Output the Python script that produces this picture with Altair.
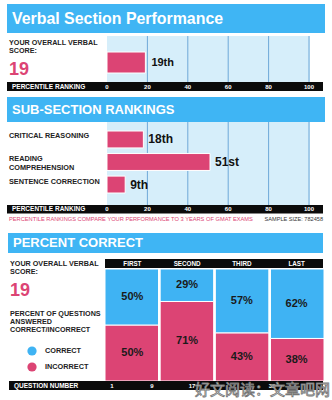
import altair as alt
import pandas as pd

# ---------------- data ----------------
overall_score = [19]
overall_percentile = [19]
overall_rank_label = ["19th"]
percentile_ticks = [0, 20, 40, 60, 80, 100]
grid_ticks = [20, 40, 60, 80, 100]

subsections = ["CRITICAL REASONING", "READING COMPREHENSION", "SENTENCE CORRECTION"]
subsection_labels = ["CRITICAL REASONING", "READING\nCOMPREHENSION", "SENTENCE CORRECTION"]
subsection_percentiles = [18, 51, 9]
subsection_rank_labels = ["18th", "51st", "9th"]

quarters = ["FIRST", "SECOND", "THIRD", "LAST"]
pct_correct = [50, 29, 57, 62]
pct_incorrect = [50, 71, 43, 38]
question_ticks = [1, 9, 17, 33]
legend_kinds = ["CORRECT", "INCORRECT"]

# ---------------- style ----------------
FONT = "Liberation Sans"
HEADER = "#3fb5f4"
PANEL = "#d6eefa"
GRID = "#6fa8d8"
PINK = "#dc4474"
BLUE = "#3fb3f3"
BLACK = "#0b0b0b"
DARK = "#222222"


def one():
    return pd.DataFrame({"k": [0]})


def box(x1, x2, y1, y2, color):
    return alt.Chart(one()).mark_rect(color=color).encode(
        x=alt.value(x1), x2=alt.value(x2), y=alt.value(y1), y2=alt.value(y2))


def label(text, x, y, size, color=DARK, bold=True, align="left", font=FONT, **kw):
    return alt.Chart(pd.DataFrame({"t": [text]})).mark_text(
        align=align, baseline="middle", fontSize=size,
        fontWeight="bold" if bold else "normal", color=color, font=font, **kw
    ).encode(x=alt.value(x), y=alt.value(y), text="t:N")


ticks_df = pd.DataFrame({"tick": percentile_ticks})
grid_df = pd.DataFrame({"tick": grid_ticks})

# ---------------- section 1 ----------------
p1 = alt.Scale(domain=[0, 100], range=[107, 309])
df1 = pd.DataFrame({"base": [0], "pct": overall_percentile,
                    "rank": overall_rank_label, "score": overall_score})

s1 = alt.layer(
    box(7, 325, 4, 33, HEADER),
    label("Verbal Section Performance", 12, 19, 15.9, "white"),
    box(107, 310, 36, 82, PANEL),
    alt.Chart(grid_df).mark_rule(color=GRID, strokeWidth=1).encode(
        x=alt.X("tick:Q", scale=p1, axis=None), y=alt.value(36), y2=alt.value(82)),
    alt.Chart(df1).mark_rect(color=PINK, stroke="white", strokeWidth=1).encode(
        x=alt.X("base:Q", scale=p1, axis=None), x2="pct:Q",
        y=alt.value(52), y2=alt.value(73)),
    alt.Chart(df1).mark_text(align="left", baseline="middle", dx=6, fontSize=11,
                             fontWeight="bold", font=FONT, color="#111").encode(
        x=alt.X("pct:Q", scale=p1, axis=None), y=alt.value(62.5), text="rank:N"),
    label("YOUR OVERALL VERBAL", 9, 43, 7.2),
    label("SCORE:", 9, 51, 7.2),
    alt.Chart(df1).mark_text(align="left", baseline="middle", fontSize=18,
                             fontWeight="bold", font=FONT, color=PINK).encode(
        x=alt.value(9), y=alt.value(69.5), text="score:N"),
    box(7, 323, 82, 91, BLACK),
    label("PERCENTILE RANKING", 12, 86.8, 6.5, "white"),
    alt.Chart(ticks_df).mark_text(baseline="middle", fontSize=6, fontWeight="bold",
                                  font=FONT, color="white").encode(
        x=alt.X("tick:Q", scale=p1, axis=None), y=alt.value(86.8), text="tick:Q"),
).properties(width=332, height=95)

# ---------------- section 2 ----------------
p2 = alt.Scale(domain=[0, 100], range=[107, 309])
yb = alt.Scale(domain=subsections, range=[36, 98], paddingInner=0.25, paddingOuter=0)
df2 = pd.DataFrame({"sub": subsections, "lab": subsection_labels, "base": 0,
                    "pct": subsection_percentiles, "rank": subsection_rank_labels})

s2 = alt.layer(
    box(7, 325, 2, 27, HEADER),
    label("SUB-SECTION RANKINGS", 12, 14.5, 13, "white"),
    box(107, 310, 27, 110, PANEL),
    alt.Chart(grid_df).mark_rule(color=GRID, strokeWidth=1).encode(
        x=alt.X("tick:Q", scale=p2, axis=None), y=alt.value(27), y2=alt.value(110)),
    alt.Chart(df2).mark_rect(color=PINK, stroke="white", strokeWidth=1).encode(
        x=alt.X("base:Q", scale=p2, axis=None), x2="pct:Q",
        y=alt.Y("sub:N", scale=yb, axis=None, sort=subsections)),
    alt.Chart(df2).mark_text(align="left", baseline="middle", dx=5, fontSize=12,
                             fontWeight="bold", font=FONT, color="#111").encode(
        x=alt.X("pct:Q", scale=p2, axis=None),
        y=alt.Y("sub:N", scale=yb, axis=None, sort=subsections), text="rank:N"),
    alt.Chart(df2).mark_text(align="left", baseline="middle", dy=-3, fontSize=7.3,
                             fontWeight="bold", font=FONT, color=DARK,
                             lineBreak="\n", lineHeight=8.5).encode(
        x=alt.value(9),
        y=alt.Y("sub:N", scale=yb, axis=None, sort=subsections), text="lab:N"),
    box(7, 323, 110, 118.5, BLACK),
    label("PERCENTILE RANKING", 12, 114.3, 6.5, "white"),
    alt.Chart(ticks_df).mark_text(baseline="middle", fontSize=6, fontWeight="bold",
                                  font=FONT, color="white").encode(
        x=alt.X("tick:Q", scale=p2, axis=None), y=alt.value(114.3), text="tick:Q"),
    label("PERCENTILE RANKINGS COMPARE YOUR PERFORMANCE TO 3 YEARS OF GMAT EXAMS",
          9, 123.5, 5.7, PINK, bold=False),
    label("SAMPLE SIZE: 782458", 323, 123.5, 5.6, "#333", bold=False, align="right"),
).properties(width=332, height=130)

# ---------------- section 3 ----------------
xq = alt.Scale(domain=quarters, range=[105, 324], paddingInner=0.03, paddingOuter=0)
yp = alt.Scale(domain=[0, 100], range=[156, 44])
color = alt.Scale(domain=legend_kinds, range=[BLUE, PINK])

rows = []
for q, c, i in zip(quarters, pct_correct, pct_incorrect):
    rows.append({"q": q, "kind": "INCORRECT", "lo": 0, "hi": i, "mid": i / 2, "lab": f"{i}%"})
    rows.append({"q": q, "kind": "CORRECT", "lo": i, "hi": i + c, "mid": i + c / 2, "lab": f"{c}%"})
df3 = pd.DataFrame(rows)
qdf = pd.DataFrame({"q": quarters})
qn_df = pd.DataFrame({"n": question_ticks})
leg_df = pd.DataFrame({"kind": legend_kinds})
ly = alt.Scale(type="point", domain=legend_kinds, range=[126, 142], padding=0)

s3 = alt.layer(
    box(8, 323, 8, 28, HEADER),
    label("PERCENT CORRECT", 13, 18.3, 13, "white"),
    box(105, 323, 34, 43, BLACK),
    alt.Chart(qdf).mark_text(baseline="middle", fontSize=6.3, fontWeight="bold",
                             font=FONT, color="white").encode(
        x=alt.X("q:N", scale=xq, axis=None, sort=quarters), y=alt.value(38.6), text="q:N"),
    alt.Chart(df3).mark_rect(stroke="white", strokeWidth=1).encode(
        x=alt.X("q:N", scale=xq, axis=None, sort=quarters),
        y=alt.Y("lo:Q", scale=yp, axis=None), y2="hi:Q",
        color=alt.Color("kind:N", scale=color, legend=None)),
    alt.Chart(df3).mark_text(baseline="middle", fontSize=11, fontWeight="bold",
                             font=FONT, color="#1a1a1a").encode(
        x=alt.X("q:N", scale=xq, axis=None, sort=quarters),
        y=alt.Y("mid:Q", scale=yp, axis=None), text="lab:N"),
    box(9, 323, 156, 165, BLACK),
    label("QUESTION NUMBER", 14, 160.6, 6.5, "white"),
    alt.Chart(qn_df).mark_text(baseline="middle", fontSize=6, fontWeight="bold",
                               font=FONT, color="white").encode(
        x=alt.X("n:Q", scale=alt.Scale(domain=[1, 41], range=[112, 312]), axis=None),
        y=alt.value(160.6), text="n:Q"),
    label("YOUR OVERALL VERBAL", 10, 39, 7.2),
    label("SCORE:", 10, 47, 7.2),
    alt.Chart(df1).mark_text(align="left", baseline="middle", fontSize=18,
                             fontWeight="bold", font=FONT, color=PINK).encode(
        x=alt.value(10), y=alt.value(66), text="score:N"),
    label("PERCENT OF QUESTIONS", 10, 88.5, 7.2),
    label("ANSWERED", 10, 96.8, 7.2),
    label("CORRECT/INCORRECT", 10, 105, 7.2),
    alt.Chart(leg_df).mark_circle(size=85, opacity=1).encode(
        x=alt.value(32), y=alt.Y("kind:N", scale=ly, axis=None),
        color=alt.Color("kind:N", scale=color, legend=None)),
    alt.Chart(leg_df).mark_text(align="left", baseline="middle", fontSize=7.3,
                                fontWeight="bold", font=FONT, color=DARK).encode(
        x=alt.value(45), y=alt.Y("kind:N", scale=ly, axis=None), text="kind:N"),
    label("好文阅读：文章吧网", 195, 165, 15, "white", bold=False,
          font="Noto Sans CJK SC", stroke="#777777", strokeWidth=0.8),
).resolve_scale(x="independent", y="independent", color="shared").properties(
    width=332, height=175)

chart = alt.vconcat(s1, s2, s3, spacing=0).configure_view(stroke=None).properties(
    padding=0, background="white")

chart.save("out.html", embed_options={"renderer": "svg", "actions": False})
